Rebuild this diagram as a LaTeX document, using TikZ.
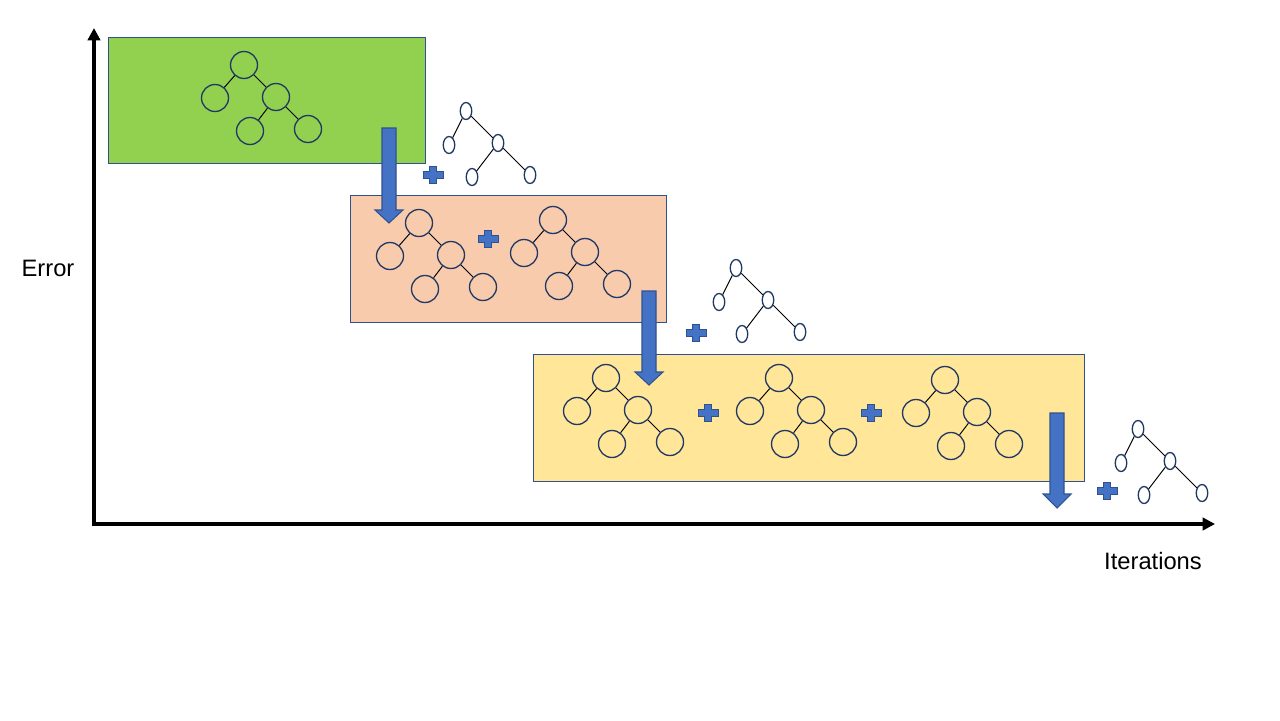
\documentclass[tikz,border=0pt]{standalone}
\usepackage{fontspec}
\setmainfont{Liberation Sans}
\usetikzlibrary{arrows.meta,shapes.geometric}

\definecolor{boxline}{HTML}{2F528F}
\definecolor{treeline}{HTML}{1F3864}
\definecolor{greenfill}{HTML}{92D050}
\definecolor{peachfill}{HTML}{F8CBAD}
\definecolor{yellowfill}{HTML}{FFE699}
\definecolor{arrowfill}{HTML}{4472C4}

\tikzset{
  stagebox/.style={draw=boxline,line width=0.5pt},
  bignode/.style={draw=treeline,circle,minimum size=0.54cm,inner sep=0pt,line width=0.75pt},
  smallnode/.style={draw=treeline,fill=white,ellipse,minimum width=0.23cm,minimum height=0.34cm,inner sep=0pt,line width=0.75pt},
  treeedge/.style={black,line width=0.55pt},
  blockarrow/.style={fill=arrowfill,draw=boxline,line width=0.6pt},
  plussign/.style={fill=arrowfill,draw=boxline,line width=0.5pt},
  axis/.style={line width=2.1pt,{Triangle[length=7pt,width=7pt]}-{Triangle[length=7pt,width=7pt]}},
  label/.style={font=\fontsize{13.5}{16}\selectfont}
}

\begin{document}
\begin{tikzpicture}[x=0.02cm,y=-0.02cm]
\def\myBoxes{108/37/425/163/greenfill, 350/195/666/322/peachfill, 533/354/1084/481/yellowfill}
\def\myTrees{244/65/g, 419/223/pa, 553/220/pb, 606/378/ya, 779/378/yb, 945/380/yc}
\def\mySmallTrees{466/111/sa, 736/268/sb, 1138/429/sc}
\def\myArrows{389/128/210/223, 649/291/372/385, 1057/413/494/508}
\def\myPlus{433/175, 488/239, 696/333, 708/413, 871/413, 1107/491}

\useasboundingbox (0,0) rectangle (1280,720);

%boxes
\foreach \xa/\ya/\xb/\yb/\col in \myBoxes {
  \draw[stagebox,fill=\col] (\xa,\ya) rectangle (\xb,\yb);
}

%trees
\foreach \x/\y/\nm in \myTrees {
  \node[bignode] (\nm0) at (\x,\y) {};
  \node[bignode] (\nm1) at (\x-29,\y+33) {};
  \node[bignode] (\nm2) at (\x+32,\y+32) {};
  \node[bignode] (\nm3) at (\x+6,\y+66) {};
  \node[bignode] (\nm4) at (\x+64,\y+64) {};
  \draw[treeedge] (\nm0) -- (\nm1);
  \draw[treeedge] (\nm0) -- (\nm2);
  \draw[treeedge] (\nm2) -- (\nm3);
  \draw[treeedge] (\nm2) -- (\nm4);
}

%arrows
\foreach \x/\ya/\yb/\yc in \myArrows {
  \draw[blockarrow] (\x-7,\ya) -- (\x+7,\ya) -- (\x+7,\yb) -- (\x+14,\yb)
    -- (\x,\yc) -- (\x-14,\yb) -- (\x-7,\yb) -- cycle;
}

%plus signs
\foreach \x/\y in \myPlus {
  \draw[plussign] (\x-3.8,\y-8.5) -- (\x+3.8,\y-8.5) -- (\x+3.8,\y-3.3)
    -- (\x+10,\y-3.3) -- (\x+10,\y+3.3) -- (\x+3.8,\y+3.3) -- (\x+3.8,\y+8.5)
    -- (\x-3.8,\y+8.5) -- (\x-3.8,\y+3.3) -- (\x-10,\y+3.3) -- (\x-10,\y-3.3)
    -- (\x-3.8,\y-3.3) -- cycle;
}

%small trees
\foreach \x/\y/\nm in \mySmallTrees {
  \node[smallnode] (\nm0) at (\x,\y) {};
  \node[smallnode] (\nm1) at (\x-17,\y+34) {};
  \node[smallnode] (\nm2) at (\x+32,\y+32) {};
  \node[smallnode] (\nm3) at (\x+6,\y+66) {};
  \node[smallnode] (\nm4) at (\x+64,\y+64) {};
  \draw[treeedge] (\nm0) -- (\nm1);
  \draw[treeedge] (\nm0) -- (\nm2);
  \draw[treeedge] (\nm2) -- (\nm3);
  \draw[treeedge] (\nm2) -- (\nm4);
}

%axes
\coordinate (origin) at (94,524);
\coordinate (ytop) at (94,28);
\coordinate (xend) at (1215,524);
\draw[axis] (ytop) -- (origin) -- (xend);

\node[label] (errLabel) at (48,268) {Error};
\node[label] (iterLabel) at (1153,561) {Iterations};
\end{tikzpicture}
\end{document}
